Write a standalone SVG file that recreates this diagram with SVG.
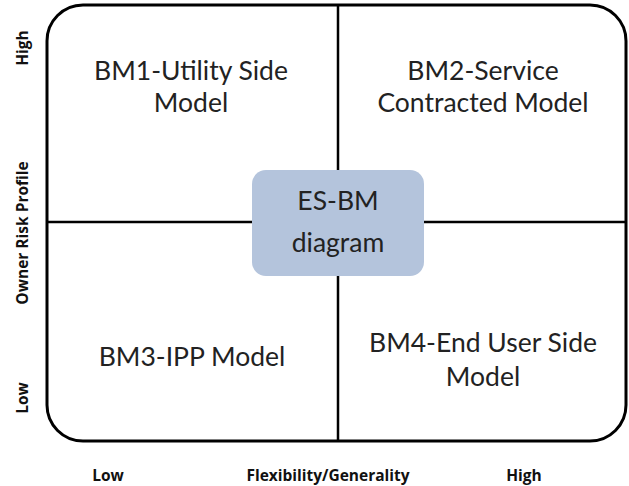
<svg xmlns="http://www.w3.org/2000/svg" width="629" height="486" viewBox="0 0 629 486">
<style>
.q{font-family:Lato,"Open Sans","Liberation Sans",sans-serif;font-size:26.5px;fill:#222;text-anchor:middle}
.ax{font-family:"Open Sans","Liberation Sans",sans-serif;font-size:15.5px;font-weight:bold;fill:#111;text-anchor:middle}
.ln{stroke:#000;stroke-width:2.5;fill:none}
</style>
<rect width="629" height="486" fill="#fff"/>
<g id="frame">
<rect x="47" y="5" width="579" height="436" rx="36" ry="36" fill="none" stroke="#000" stroke-width="3"/>
</g>
<g id="connectors">
<line class="ln" x1="338" y1="5" x2="338" y2="441"/>
<line class="ln" x1="47" y1="222" x2="626" y2="222"/>
</g>
<g id="bm1"><text class="q" x="191" y="80">BM1-Utility Side</text><text class="q" x="191" y="112">Model</text></g>
<g id="bm2"><text class="q" x="483" y="80">BM2-Service</text><text class="q" x="483" y="112">Contracted Model</text></g>
<g id="center">
<rect x="252" y="170" width="172" height="106" rx="14" ry="14" fill="#b4c4dc"/>
<text class="q" x="338" y="210">ES-BM</text><text class="q" x="338" y="252">diagram</text>
</g>
<g id="bm3"><text class="q" x="192" y="366">BM3-IPP Model</text></g>
<g id="bm4"><text class="q" x="483" y="352">BM4-End User Side</text><text class="q" x="483" y="386">Model</text></g>
<g id="axes">
<text class="ax" x="108" y="481">Low</text>
<text class="ax" x="328" y="481">Flexibility/Generality</text>
<text class="ax" x="524" y="481">High</text>
<text class="ax" transform="translate(28,48) rotate(-90)">High</text>
<text class="ax" transform="translate(28,233) rotate(-90)">Owner Risk Profile</text>
<text class="ax" transform="translate(28,398) rotate(-90)">Low</text>
</g>
</svg>
